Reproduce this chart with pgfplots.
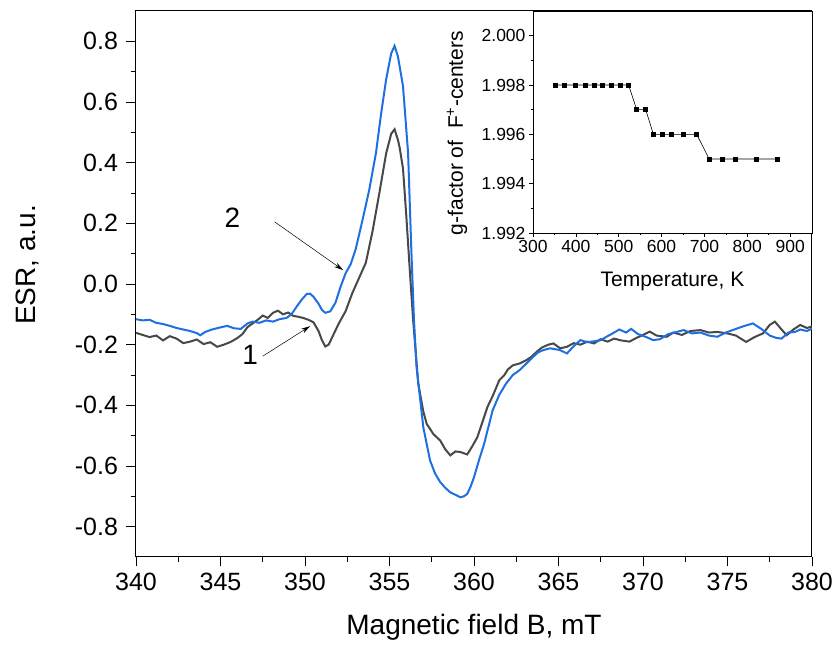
\documentclass[border=0pt]{standalone}
\usepackage{fontspec}
\setmainfont{Liberation Sans}
\usepackage{pgfplots}
\pgfplotsset{compat=1.18}
\usetikzlibrary{arrows.meta}

\definecolor{esrblue}{RGB}{31,111,224}
\definecolor{esrgray}{RGB}{72,72,72}

\begin{document}
\begin{tikzpicture}
\useasboundingbox (-136pt,-95pt) rectangle (700pt,557pt);

% main ESR spectra
\begin{axis}[
    at={(0pt,0pt)}, anchor=south west,
    scale only axis, width=676pt, height=546pt,
    xmin=340, xmax=380,
    ymin=-0.9, ymax=0.9,
    xtick={340,345,...,380},
    ytick={-0.8,-0.6,-0.4,-0.2,0,0.2,0.4,0.6,0.8},
    minor x tick num=1, minor y tick num=1,
    tick align=outside, xtick pos=left, ytick pos=left,
    major tick length=9.5pt, minor tick length=5pt,
    axis line style={line width=1pt},
    tick style={line width=0.9pt, black},
    /pgf/number format/assume math mode=true,
    tick label style={font=\fontsize{25}{27}\selectfont},
    xticklabel style={yshift=-3pt},
    yticklabel style={xshift=-5pt, /pgf/number format/fixed, /pgf/number format/fixed zerofill,
        /pgf/number format/precision=1},
    label style={font=\fontsize{28}{30}\selectfont},
    xlabel={Magnetic field B, mT},
    ylabel={ESR, a.u.},
    xlabel style={at={(axis description cs:0.5,-0.128)}, anchor=center},
    ylabel style={at={(axis description cs:-0.16,0.535)}, anchor=center},
]
\addplot[esrgray, line width=2pt] coordinates {
(340.0,-0.161) (340.4,-0.168) (340.8,-0.175) (341.2,-0.170) (341.6,-0.186)
(342.0,-0.172) (342.4,-0.180) (342.8,-0.195) (343.2,-0.190) (343.6,-0.183)
(344.0,-0.198) (344.4,-0.192) (344.8,-0.207) (345.2,-0.200) (345.6,-0.191)
(346.0,-0.178) (346.3,-0.165) (346.6,-0.142) (346.9,-0.130) (347.2,-0.118)
(347.5,-0.104) (347.8,-0.112) (348.1,-0.095) (348.4,-0.088) (348.7,-0.100)
(349.0,-0.094) (349.3,-0.105) (349.6,-0.108) (349.9,-0.112) (350.2,-0.118)
(350.5,-0.126) (350.8,-0.155) (351.0,-0.185) (351.2,-0.206) (351.4,-0.200)
(351.7,-0.165) (352.0,-0.130) (352.4,-0.090) (352.8,-0.030) (353.2,0.020)
(353.6,0.070) (354.0,0.175) (354.4,0.300) (354.8,0.430) (355.1,0.495)
(355.3,0.510) (355.5,0.475) (355.6,0.450) (355.8,0.380) (356.0,0.220)
(356.2,0.046) (356.4,-0.120) (356.7,-0.328) (357.0,-0.420) (357.2,-0.461)
(357.6,-0.495) (358.0,-0.516) (358.3,-0.545) (358.6,-0.565) (358.9,-0.552)
(359.2,-0.554) (359.6,-0.562) (359.9,-0.535) (360.2,-0.505) (360.5,-0.455)
(360.8,-0.405) (361.1,-0.370) (361.5,-0.317) (361.8,-0.300) (362.0,-0.282)
(362.3,-0.268) (362.7,-0.262) (363.1,-0.251) (363.4,-0.240) (363.7,-0.224)
(364.0,-0.210) (364.4,-0.200) (364.7,-0.196) (365.1,-0.212) (365.5,-0.207)
(365.9,-0.195) (366.3,-0.200) (366.7,-0.190) (367.1,-0.196) (367.5,-0.182)
(367.9,-0.190) (368.3,-0.180) (368.7,-0.186) (369.2,-0.190) (369.6,-0.178)
(370.0,-0.168) (370.4,-0.157) (370.8,-0.170) (371.4,-0.174) (371.8,-0.160)
(372.3,-0.168) (372.8,-0.155) (373.4,-0.152) (373.9,-0.160) (374.4,-0.158)
(375.0,-0.163) (375.5,-0.170) (376.1,-0.191) (376.6,-0.175) (377.1,-0.163)
(377.5,-0.135) (377.8,-0.124) (378.2,-0.150) (378.5,-0.169) (378.9,-0.150)
(379.3,-0.135) (379.7,-0.145) (380.0,-0.140)
};
\addplot[esrblue, line width=2pt] coordinates {
(340.0,-0.116) (340.4,-0.120) (340.8,-0.118) (341.2,-0.128) (341.6,-0.132)
(342.0,-0.138) (342.4,-0.145) (342.8,-0.150) (343.2,-0.155) (343.6,-0.162)
(343.8,-0.169) (344.1,-0.158) (344.5,-0.150) (345.0,-0.143) (345.4,-0.138)
(345.8,-0.146) (346.2,-0.148) (346.6,-0.130) (346.9,-0.124) (347.3,-0.128)
(347.7,-0.120) (348.1,-0.124) (348.5,-0.116) (348.9,-0.112) (349.2,-0.100)
(349.5,-0.075) (349.8,-0.052) (350.1,-0.033) (350.3,-0.032) (350.5,-0.042)
(350.8,-0.065) (351.0,-0.085) (351.2,-0.095) (351.5,-0.090) (351.8,-0.062)
(352.1,-0.010) (352.4,0.035) (352.7,0.065) (353.0,0.115) (353.4,0.210)
(353.8,0.310) (354.2,0.432) (354.5,0.560) (354.8,0.674) (355.1,0.760)
(355.3,0.785) (355.5,0.750) (355.8,0.652) (356.1,0.432) (356.3,0.100)
(356.45,-0.120) (356.6,-0.273) (357.0,-0.472) (357.4,-0.582) (357.7,-0.625)
(358.0,-0.653) (358.3,-0.672) (358.6,-0.687) (358.9,-0.695) (359.2,-0.703)
(359.4,-0.700) (359.6,-0.692) (359.8,-0.668) (360.0,-0.637) (360.3,-0.580)
(360.6,-0.527) (361.1,-0.417) (361.5,-0.365) (361.9,-0.328) (362.3,-0.300)
(362.7,-0.284) (363.1,-0.262) (363.5,-0.240) (363.8,-0.225) (364.1,-0.218)
(364.5,-0.212) (365.1,-0.218) (365.5,-0.229) (365.9,-0.205) (366.3,-0.185)
(366.7,-0.192) (367.1,-0.189) (367.5,-0.185) (367.9,-0.172) (368.2,-0.163)
(368.6,-0.150) (369.0,-0.160) (369.3,-0.148) (369.7,-0.165) (370.2,-0.175)
(370.6,-0.185) (371.0,-0.182) (371.5,-0.165) (372.0,-0.158) (372.4,-0.152)
(372.9,-0.163) (373.4,-0.160) (373.9,-0.170) (374.4,-0.174) (374.9,-0.160)
(375.4,-0.150) (375.9,-0.140) (376.5,-0.130) (377.0,-0.148) (377.5,-0.170)
(377.9,-0.178) (378.2,-0.180) (378.6,-0.160) (379.0,-0.158) (379.3,-0.150)
(379.7,-0.155) (380.0,-0.147)
};
% curve labels
\node[font=\fontsize{28}{30}\selectfont] at (axis cs:345.7,0.218) {2};
\node[font=\fontsize{28}{30}\selectfont] at (axis cs:346.75,-0.235) {1};
\draw[line width=0.5pt, -{Stealth[length=9pt,width=5pt]}] (axis cs:348.2,0.205) -- (axis cs:352.25,0.046);
\draw[line width=0.5pt, -{Stealth[length=9pt,width=5pt]}] (axis cs:347.5,-0.238) -- (axis cs:350.3,-0.139);
\end{axis}

% inset: g-factor vs temperature
\begin{axis}[
    at={(397pt,324pt)}, anchor=south west,
    scale only axis, width=279pt, height=222pt,
    axis background/.style={fill=white},
    xmin=300, xmax=951,
    ymin=1.992, ymax=2.001,
    xtick={300,400,...,900},
    ytick={1.992,1.994,1.996,1.998,2.000},
    minor x tick num=1, minor y tick num=1,
    scaled y ticks=false,
    tick align=outside, xtick pos=left, ytick pos=left,
    major tick length=4pt, minor tick length=2.5pt,
    axis line style={line width=0.9pt},
    tick style={line width=0.7pt, black},
    /pgf/number format/assume math mode=true,
    tick label style={font=\fontsize{17.5}{19}\selectfont},
    yticklabel style={/pgf/number format/fixed, /pgf/number format/fixed zerofill,
        /pgf/number format/precision=3},
    label style={font=\fontsize{21}{23}\selectfont},
    xlabel={Temperature, K},
    ylabel={g-factor of\ \ F\textsuperscript{+}-centers},
    xlabel style={at={(axis description cs:0.5,-0.22)}, anchor=center},
    ylabel style={at={(axis description cs:-0.272,0.45)}, anchor=center},
]
\addplot[black, line width=0.6pt, mark=square*, mark size=2pt] coordinates {
(353,1.998) (372,1.998) (399,1.998) (423,1.998) (443,1.998)
(462,1.998) (482,1.998) (503,1.998) (523,1.998)
(542,1.997) (563,1.997)
(581,1.996) (602,1.996) (622,1.996) (651,1.996) (682,1.996)
(711,1.995) (742,1.995) (772,1.995) (821,1.995) (871,1.995)
};
\end{axis}
\end{tikzpicture}
\end{document}
